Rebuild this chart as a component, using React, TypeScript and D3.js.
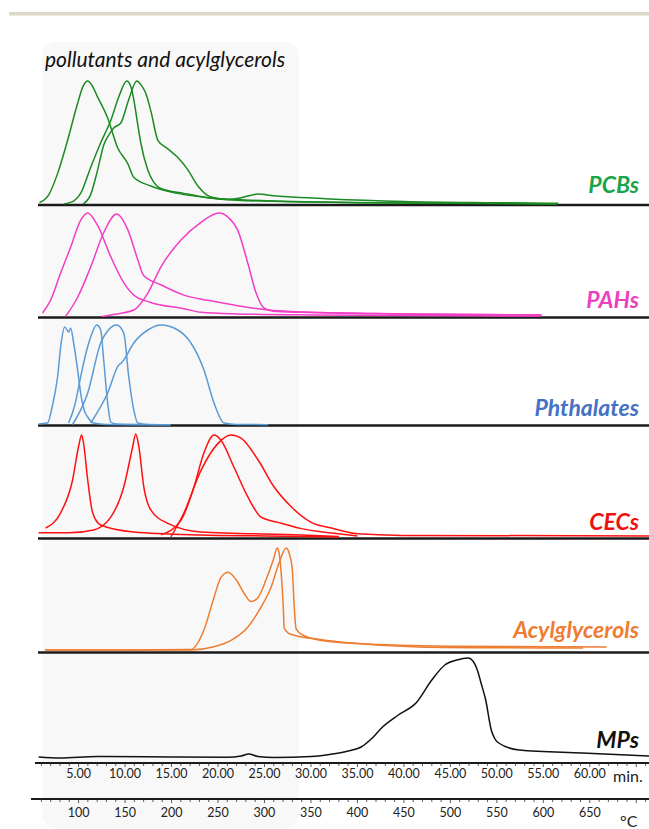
import React from 'react';
import * as d3 from 'd3';

type Pt = [number, number];

// time (min) vs relative intensity (0-100 of panel)
const pcbA: Pt[] = [[0.8,1.5],[1.8,8],[2.74,25],[3.82,52],[4.9,82],[5.5,96],[5.98,100],[6.4,97],[7.05,87],[8.13,70],[9.2,46],[10.3,33],[10.94,22],[12.77,15],[15.68,9],[18.92,5.5],[22,4],[28,2.5],[35,1.5],[45,1],[56.5,0.5]];
const pcbB: Pt[] = [[3.4,0.5],[4.5,3],[5.22,9],[6.3,30],[7.38,50],[8.46,68],[9.32,87],[10.18,100],[10.6,96],[10.94,85],[11.3,68],[11.69,50],[12.45,28],[13.85,13],[16.33,9],[18.92,5.5],[22,3.5],[30,2],[40,1.2],[56.5,0.5]];
const pcbC: Pt[] = [[5.5,0.5],[6.3,8],[7.05,28],[7.7,48],[8.4,58],[8.78,62],[9.54,66],[10.4,85],[11.26,100],[11.8,96],[12.23,90],[12.8,75],[13.53,52],[14.61,45],[15.68,38],[16.76,28],[17.84,15],[19.24,6],[21,4],[22.5,5.5],[24.3,8.5],[26,7],[28,6],[32,4.5],[40,2.5],[50,1.5],[56.6,1]];

const pahA: Pt[] = [[1.12,3.8],[1.98,16],[3.06,42],[4.14,67],[5.22,93],[5.98,100],[7.05,88],[8.46,58],[9.86,33],[10.94,21],[12.77,14],[16.33,8],[18.2,4.5],[22,3],[30,2],[54.8,1]];
const pahB: Pt[] = [[3.6,0.5],[4.9,19],[6.3,48],[7.7,81],[9.1,99],[10.29,84],[11.37,55],[12.0,40],[13.85,31],[16.33,21],[18.92,16],[21.72,11.5],[25.4,6.7],[32.2,4],[40,3],[54.8,2]];
const pahC: Pt[] = [[7.5,0.5],[8.46,2],[10.94,6.7],[12.45,23],[13.85,48],[16.01,74],[18.17,91],[20.11,100],[21.2,95],[22.1,84],[23.2,52],[24.1,23],[24.9,9],[26,5.5],[29,4.5],[40,3],[54.8,2]];

const phtA: Pt[] = [[0.7,1],[1.66,2],[2.2,20],[2.74,48],[3.1,80],[3.5,98],[3.93,93],[4.14,97],[4.47,82],[4.9,55],[5.22,32],[5.6,15],[5.98,8],[6.62,2],[8,0.5],[14.9,0.3]];
const phtB: Pt[] = [[3.93,2],[4.6,20],[5.22,48],[5.8,72],[6.3,88],[6.95,100],[7.38,95],[7.7,65],[8.13,22],[8.46,3],[9,1],[12,0.5]];
const phtC: Pt[] = [[4.36,0.5],[5.98,32],[7.38,82],[8.2,95],[9.1,100],[9.86,92],[10.4,48],[10.94,15],[11.37,2],[12.5,0.5],[14.9,0.3]];
const phtD: Pt[] = [[6.3,2],[8.13,32],[9.32,60],[9.6,62],[9.86,65],[10.94,82],[12.45,95],[13.85,100],[15.68,95],[17.09,82],[18.49,55],[19.57,22],[20.65,2],[22,0.5],[25.4,0.3]];

const cecA: Pt[] = [[1.45,9.6],[3.06,24],[4.36,56],[5.0,88],[5.33,99],[5.54,91],[5.98,56],[6.52,24],[7.38,12.5],[10.94,5.8],[18.17,2.9],[25,2],[33,1]];
const cecB: Pt[] = [[0.7,5],[4,5],[6.62,7.7],[8.46,20],[9.86,49],[10.83,88],[11.15,100],[11.48,88],[12.02,49],[12.77,27],[14.61,14],[18.17,5.8],[28.95,2.9],[33,1.5]];
const cecC: Pt[] = [[13.85,3],[16.01,17],[17.41,49],[18.49,82],[19.57,99],[20.32,94],[21.72,68],[23.24,39],[24.64,20],[26.47,15],[28.95,9],[32.2,4.8],[35,2]];
const cecD: Pt[] = [[14.93,1],[16.33,24],[18.17,65],[20.0,91],[21.4,99],[22.48,96],[24.32,75],[26.04,49],[27.88,30],[30.03,15],[32.2,9.6],[35,4],[39.74,2.5],[66.6,2]];

const acyA: Pt[] = [[1.4,2],[10,2],[17.09,2.5],[18.49,21],[19.57,52],[20.32,71],[21.08,76],[21.94,69],[22.8,56],[23.56,48],[24.32,52],[25.18,69],[25.96,88],[26.37,99],[26.58,94],[26.8,75],[27.02,43],[27.12,23],[27.55,18],[28.2,16],[31,12],[34.35,8.6],[41.57,4.8],[50,4],[59.3,3.8]];
const acyB: Pt[] = [[1.4,2],[17.09,2],[19.57,5],[21.4,11],[23.24,24],[24.64,43],[25.72,62],[26.58,85],[27.34,99],[27.66,94],[28.0,78],[28.2,43],[28.41,22],[28.95,17],[31.11,11],[35,8],[45,5.5],[61.8,4.8]];

const mpA: Pt[] = [[0.7,1],[3,0],[7,1.5],[15,1],[21,0.8],[22.5,2],[23.3,4],[24.3,1.5],[26,0.5],[30,1.5],[32.3,4],[34,7],[35.4,11],[36.6,20],[37.7,31],[39.4,43],[41.3,55],[43,78],[44.4,93],[45.7,98],[46.9,100],[47.5,96],[47.9,88],[48.3,75],[48.8,58],[49.4,28],[49.8,19],[50.2,15],[52.4,8],[59.2,5],[66.6,2]];

const panelNames = ['PCBs', 'PAHs', 'Phthalates', 'CECs', 'Acylglycerols', 'MPs'];
const panelSeries: Pt[][][] = [[pcbA, pcbB, pcbC], [pahA, pahB, pahC], [phtA, phtB, phtC, phtD], [cecA, cecB, cecC, cecD], [acyA, acyB], [mpA]];

const timeTicks = [5, 10, 15, 20, 25, 30, 35, 40, 45, 50, 55, 60];
const tempTicks = [100, 150, 200, 250, 300, 350, 400, 450, 500, 550, 600, 650];

// layout / style (not data)
const layout = [
  { base: 204.5, top: 81, line: 205, labelY: 193, curve: '#1c8a22', label: '#1aa54b' },
  { base: 317, top: 213, line: 317.5, labelY: 308, curve: '#f23dc6', label: '#ee3fbe' },
  { base: 425, top: 325, line: 425.5, labelY: 416, curve: '#5b9bd5', label: '#4472c4' },
  { base: 538, top: 434, line: 538.5, labelY: 530, curve: '#ff1010', label: '#ee1111' },
  { base: 652, top: 547, line: 652.5, labelY: 638, curve: '#ed7d31', label: '#ed7d31' },
  { base: 758, top: 658, line: 763, labelY: 748, curve: '#111111', label: '#111111' },
];

export default function App() {
  const W = 649, H = 829;
  const x = d3.scaleLinear().domain([0, 60]).range([32.1, 589.8]);
  const xT = d3.scaleLinear().domain([50, 650]).range([32.1, 589.8]);
  const timeAxisY = 763;
  const tempAxisY = 799;
  const minorTime = d3.range(1, 67, 1);
  const minorTemp = d3.range(60, 720, 10);

  return (
    <svg width={W} height={H} style={{ position: 'absolute', left: 0, top: 0, background: '#fff' }}
      fontFamily="Lato, 'Open Sans', sans-serif">
      <rect x={9} y={12} width={W - 9} height={3.5} fill="#ddd7c7" />
      <rect x={42} y={42} width={257} height={786} rx={14} fill="#f8f8f8" />
      <text x={45} y={67} fontSize={21} fontStyle="italic" fill="#111">pollutants and acylglycerols</text>

      {layout.map((l, i) => {
        const y = d3.scaleLinear().domain([0, 100]).range([l.base, l.top]);
        const line = d3.line<Pt>().x(d => x(d[0])).y(d => y(d[1])).curve(d3.curveMonotoneX);
        return (
          <g key={panelNames[i]}>
            {i < 5 && <line x1={38} x2={W} y1={l.line} y2={l.line} stroke="#1a1a1a" strokeWidth={2.4} />}
            {panelSeries[i].map((s, j) => (
              <path key={j} d={line(s) || ''} fill="none" stroke={l.curve} strokeWidth={1.5} />
            ))}
            <text x={639} y={l.labelY} textAnchor="end" fontSize={23} fontWeight="bold" fontStyle="italic" fill={l.label}>
              {panelNames[i]}
            </text>
          </g>
        );
      })}

      {/* time axis */}
      <line x1={35} x2={W} y1={timeAxisY} y2={timeAxisY} stroke="#1a1a1a" strokeWidth={2.2} />
      {minorTime.map(t => (
        <line key={t} x1={x(t)} x2={x(t)} y1={timeAxisY} y2={timeAxisY + (t % 5 === 0 ? 4 : 3)} stroke="#333" strokeWidth={0.8} />
      ))}
      {timeTicks.map(t => (
        <text key={t} x={x(t)} y={778} textAnchor="middle" fontSize={12.5} fill="#222">{t.toFixed(2)}</text>
      ))}
      <text x={613} y={782} fontSize={16} fill="#222">min.</text>

      {/* temperature axis */}
      <line x1={31} x2={W} y1={tempAxisY} y2={tempAxisY} stroke="#1a1a1a" strokeWidth={2.2} />
      {minorTemp.map(T => (
        <line key={T} x1={xT(T)} x2={xT(T)} y1={tempAxisY} y2={tempAxisY + (T % 50 === 0 ? 4 : 3)} stroke="#333" strokeWidth={0.8} />
      ))}
      {tempTicks.map(T => (
        <text key={T} x={xT(T)} y={817} textAnchor="middle" fontSize={12.5} fill="#222">{T}</text>
      ))}
      <text x={620} y={827} fontSize={16} fill="#222">°C</text>
    </svg>
  );
}
